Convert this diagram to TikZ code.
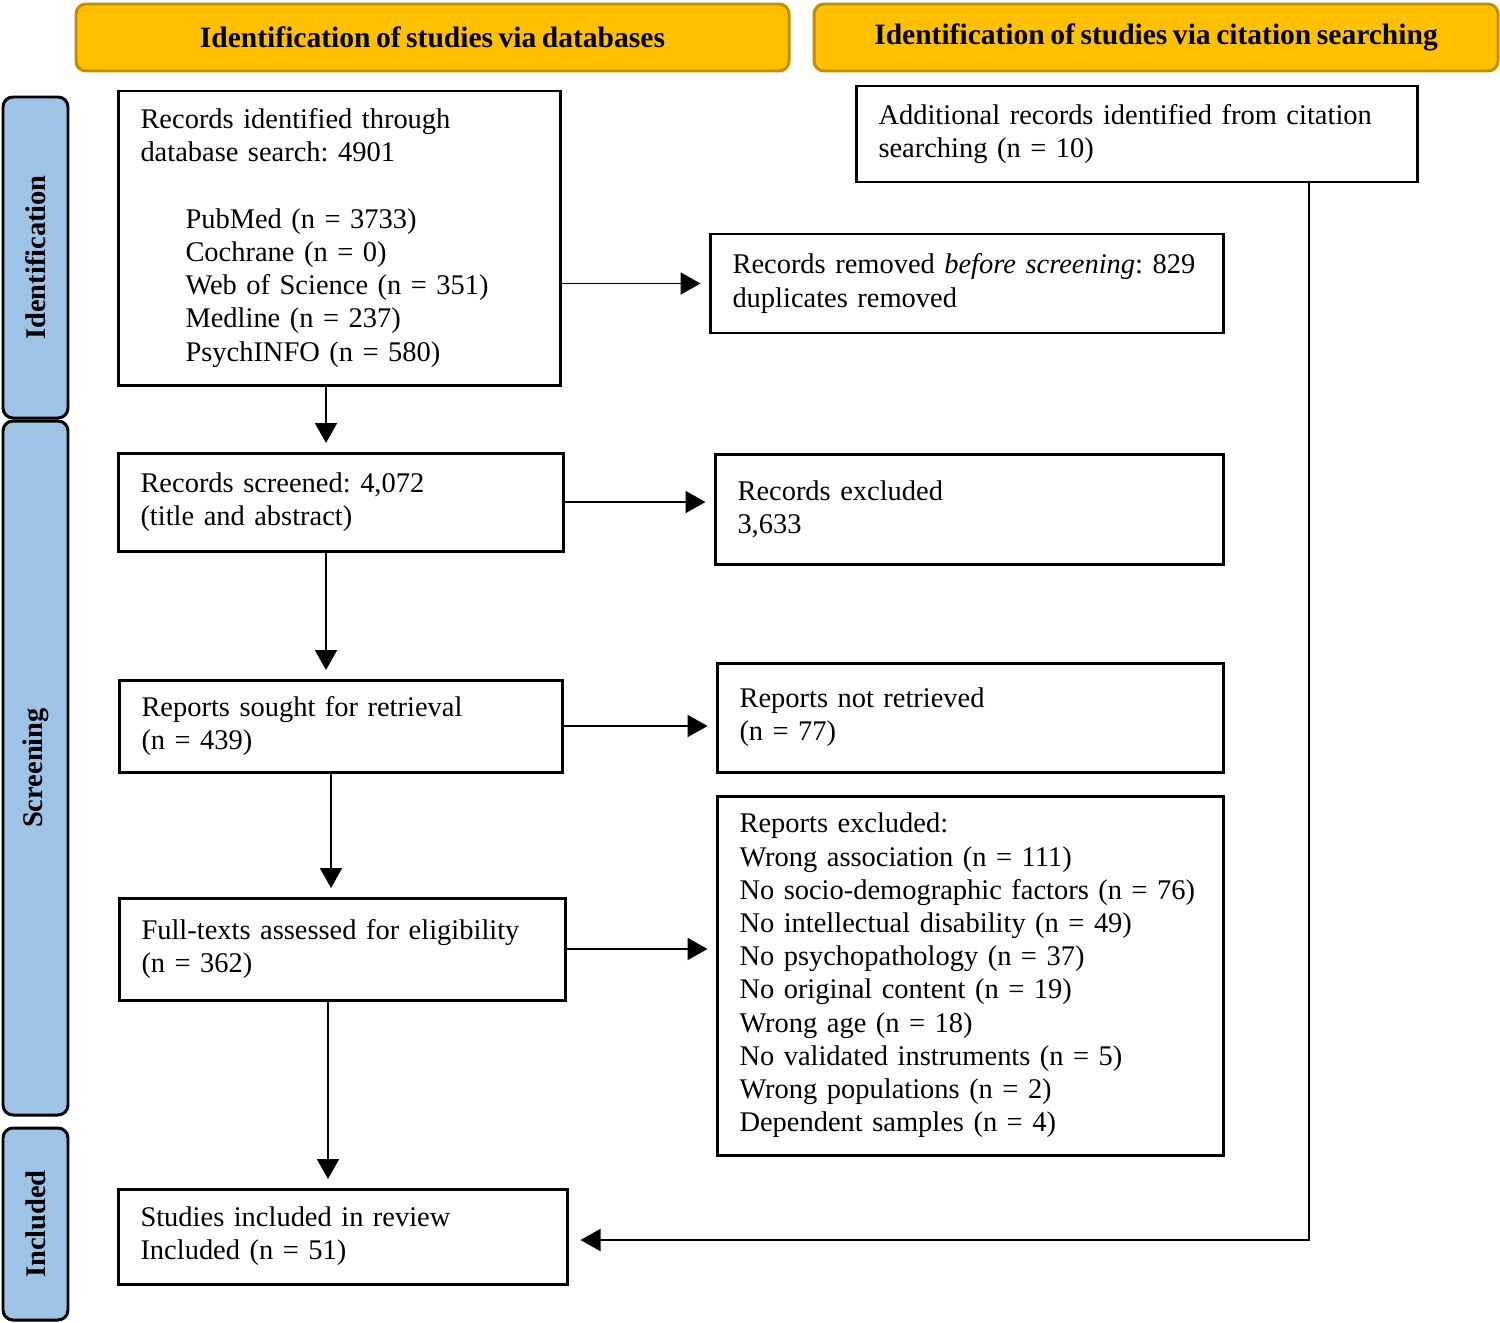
\documentclass[tikz,border=0pt]{standalone}
\usepackage{fontspec}
\setmainfont{Liberation Serif}[WordSpace=0.75]
\usetikzlibrary{calc, positioning, arrows.meta}

\definecolor{gold}{RGB}{255,192,0}
\definecolor{golddark}{RGB}{191,144,0}
\definecolor{stageblue}{RGB}{157,195,230}
\newcommand{\basefont}{\fontsize{16.2}{18.9}\selectfont\frenchspacing}

\begin{document}
\begin{tikzpicture}[
    >={Triangle[length=0.4cm, width=0.44cm]},
    font=\basefont,
    box/.style 2 args={draw, line width=1.7pt, align=left, inner xsep=0.44cm, text width=#1cm, minimum height=#2cm, outer sep=0pt},
    head/.style={draw=golddark, fill=gold, line width=1.7pt, rounded corners=0.2cm, minimum width=#1cm, minimum height=1.34cm, font=\fontsize{16.8}{18.9}\selectfont\bfseries},
    stage/.style={draw, fill=stageblue, line width=1.7pt, rounded corners=0.2cm, rotate=90, minimum width=#1cm, minimum height=1.3cm, font=\basefont\bfseries},
    arr/.style={->, line width=1.1pt, shorten >=0.2cm}
]
    \useasboundingbox (0,0) rectangle (30,-26.44);

    % Headers
    \node[head=14.26] (hdb) at (8.65,-0.75) {Identification of studies via databases};
    \node[head=13.68] (hcite) at (23.12,-0.75) {Identification of studies via citation searching};

    % Stages on the left
    \node[stage=6.42] (sident) at (0.71,-5.15) {Identification};
    \node[stage=13.88] (sscreen) at (0.71,-15.36) {Screening};
    \node[stage=3.84] (sincl) at (0.71,-24.48) {Included};

    % Main column
    \node[box={7.96}{5.88}] (found) at (6.79,-4.76) {Records identified through\\
        database search: 4901\\[\baselineskip]
        \hspace*{0.9cm}PubMed (n = 3733)\\
        \hspace*{0.9cm}Cochrane (n = 0)\\
        \hspace*{0.9cm}Web of Science (n = 351)\\
        \hspace*{0.9cm}Medline (n = 237)\\
        \hspace*{0.9cm}PsychINFO (n = 580)};
    \node[box={8.02}{1.96}] (screened) at (6.82,-10.04) {Records screened: 4,072\\(title and abstract)};
    \node[box={7.98}{1.84}] (sought) at (6.82,-14.52) {Reports sought for retrieval\\(n = 439)};
    \node[box={8.04}{2.04}] (assessed) at (6.85,-18.98) {Full-texts assessed for eligibility\\(n = 362)};
    \node[box={8.1}{1.9}] (included) at (6.86,-24.73) {Studies included in review\\Included (n = 51)};

    % Side column
    \node[box={10.34}{1.92}] (cited) at (22.74,-2.68) {Additional records identified from citation\\searching (n = 10)};
    \node[box={9.38}{1.98}] (removed) at (19.34,-5.67) {Records removed \textit{before screening}: 829\\duplicates removed};
    \node[box={9.28}{2.2}] (excluded) at (19.39,-10.18) {Records excluded\\3,633};
    \node[box={9.24}{2.18}] (notret) at (19.41,-14.35) {Reports not retrieved\\(n = 77)};
    \node[box={9.24}{7.18}] (repexcl) at (19.41,-19.51) {Reports excluded:\\
        Wrong association (n = 111)\\
        No socio-demographic factors (n = 76)\\
        No intellectual disability (n = 49)\\
        No psychopathology (n = 37)\\
        No original content (n = 19)\\
        Wrong age (n = 18)\\
        No validated instruments (n = 5)\\
        Wrong populations (n = 2)\\
        Dependent samples (n = 4)};

    % Arrows to the right
    \draw[arr] (found.east |- removed.west) -- (removed.west);
    \draw[arr] (screened.east) -- (screened.east -| excluded.west);
    \draw[arr] (sought.east) -- (sought.east -| notret.west);
    \draw[arr] (assessed.east) -- (assessed.east -| repexcl.west);

    % Arrows down
    \coordinate (d1) at ($(found.south)+(-0.27,0)$);
    \coordinate (d2) at ($(screened.south)+(-0.3,0)$);
    \coordinate (d3) at ($(sought.south)+(-0.2,0)$);
    \coordinate (d4) at ($(assessed.south)+(-0.29,0)$);
    \draw[arr] (d1) -- (d1 |- screened.north);
    \draw[arr] (d2) -- (d2 |- sought.north);
    \draw[arr] (d3) -- (d3 |- assessed.north);
    \draw[arr] (d4) -- (d4 |- included.north);

    % Citation searching into the review
    \coordinate (turn) at (26.18,-24.8);
    \draw[arr, shorten >=0.26cm] (cited.south -| turn) -- (turn) -- (turn -| included.east);

\end{tikzpicture}
\end{document}
